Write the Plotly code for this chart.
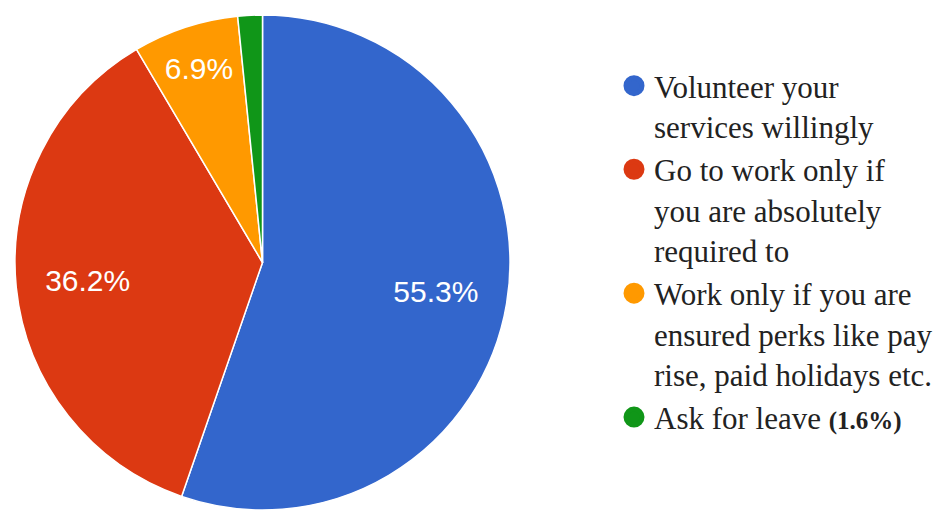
import plotly.graph_objects as go

categories = [
    "Volunteer your<br>services willingly",
    "Go to work only if<br>you are absolutely<br>required to",
    "Work only if you are<br>ensured perks like pay<br>rise, paid holidays etc.",
    "Ask for leave <span style='font-size:25px'><b>(1.6%)</b></span>",
]
values = [55.3, 36.2, 6.9, 1.6]
slice_labels = ["55.3%", "36.2%", "6.9%", ""]
colors = ["#3366CC", "#DC3912", "#FF9900", "#109618"]

W, H = 948, 510
OFF = 8  # page body margin

dom = dict(x=[(13 - OFF) / W, (512 - OFF) / W], y=[1 - (510 - OFF) / H, 1 - (15 - OFF) / H])

fig = go.Figure()
# filled slices
fig.add_trace(go.Pie(
    labels=categories,
    values=values,
    textinfo="none",
    sort=False,
    direction="clockwise",
    rotation=0,
    marker=dict(colors=colors, line=dict(color="white", width=1.5)),
    showlegend=False,
    hoverinfo="label+percent",
    domain=dom,
))
# percentage labels (transparent ring so the text sits further out)
fig.add_trace(go.Pie(
    labels=categories,
    values=values,
    text=slice_labels,
    textinfo="text",
    textposition="inside",
    insidetextorientation="horizontal",
    sort=False,
    direction="clockwise",
    rotation=0,
    hole=0.42,
    marker=dict(colors=["rgba(0,0,0,0)"] * 4, line=dict(width=0)),
    insidetextfont=dict(family="Liberation Sans, Arial", size=30, color="white"),
    showlegend=False,
    hoverinfo="skip",
    domain=dom,
))

for name, col in zip(categories, colors):
    fig.add_trace(go.Scatter(
        x=[None], y=[None], mode="markers", name=name,
        marker=dict(symbol="circle", size=16, color=col, line=dict(color=col, width=5)),
        showlegend=True,
    ))

fig.update_layout(
    width=W, height=H,
    margin=dict(l=0, r=0, t=0, b=0),
    paper_bgcolor="white", plot_bgcolor="white",
    xaxis=dict(visible=False), yaxis=dict(visible=False),
    legend=dict(
        x=606 / W, y=1 - 51 / H, xanchor="left", yanchor="top",
        font=dict(family="Liberation Serif, Times New Roman", size=31, color="#222222"),
        valign="top", itemwidth=30, tracegroupgap=0,
        bgcolor="rgba(0,0,0,0)",
    ),
)

fig.write_html("out.html")
